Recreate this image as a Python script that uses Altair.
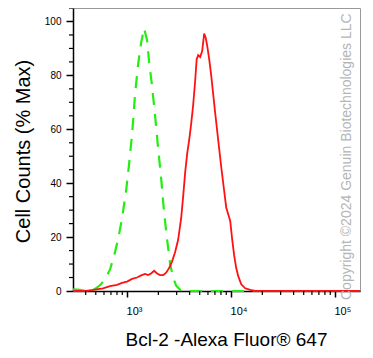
import altair as alt
import pandas as pd

# Fluorescence intensity (Bcl-2 Alexa Fluor 647) and % max cell counts
green_x = [302, 352, 403, 460, 503, 562, 628, 686, 749, 819, 895, 978, 1045, 1117,
           1194, 1276, 1364, 1458, 1559, 1629, 1741, 1861, 1989, 2126, 2273, 2429,
           2597, 2775, 2966, 3240, 3702, 174000]
green_y = [0.6, 0.4, 0, 0.3, 1, 2.5, 5, 8, 13, 19, 27, 37, 47, 58,
           73, 84, 92, 97.5, 93, 85, 76, 65, 53, 42, 29, 19,
           10, 5, 2, 0.5, 0, 0]

red_x = [302, 403, 492, 587, 686, 801, 895, 1000, 1117, 1248, 1364, 1491, 1594, 1703,
         1820, 1945, 2079, 2222, 2375, 2539, 2713, 2900, 3099, 3313, 3463, 3622, 3785,
         3957, 4136, 4323, 4520, 4673, 4831, 5050, 5279, 5518, 5705, 5898, 6166, 6446,
         6738, 7043, 7529, 8049, 8602, 8991, 9398, 9824, 10270, 10736, 11223, 11732,
         12541, 13706, 15311, 17107, 174000]
red_y = [0, 0, 0.5, 1, 1.8, 2.3, 3, 3.5, 4.5, 5, 5.8, 6.3, 5.9, 6.5,
         7.5, 6.5, 5.9, 5.9, 6.8, 8.5, 11, 14.5, 19, 27, 35, 44, 51,
         56, 62, 69, 78, 86, 87.5, 86.8, 89, 95.5, 94, 91, 86, 80,
         73, 66, 56, 46, 37, 31, 28.5, 26, 19, 13, 8.5, 5.5,
         2.5, 1, 0.4, 0, 0]

x_major = [1000, 10000, 100000]
x_major_labels = ["10³", "10⁴", "10⁵"]
x_minor = [m * d for d in (100, 1000, 10000) for m in range(2, 10) if 302 <= m * d <= 174000]
y_major = [0, 20, 40, 60, 80, 100]
y_minor = [v for v in range(5, 106, 5) if v % 20 != 0]

green_df = pd.DataFrame({"x": green_x, "y": green_y})
red_df = pd.DataFrame({"x": red_x, "y": red_y})
xminor_df = pd.DataFrame({"x": x_minor})
yminor_df = pd.DataFrame({"y": y_minor})
wm_df = pd.DataFrame({"t": ["Copyright ©2024 Genuin Biotechnologies LLC"]})

FONT = "Liberation Sans"
W, H = 287, 283
xs = alt.Scale(type="log", domain=[302, 174000], nice=False)
ys = alt.Scale(domain=[0, 105], nice=False)

label_expr = " : ".join(
    f"datum.value == {v} ? '{l}'" for v, l in zip(x_major, x_major_labels)
) + " : ''"

x_axis_major = alt.Axis(
    orient="bottom", values=x_major, labelExpr=label_expr, grid=False,
    tickSize=6, tickWidth=1.5, tickColor="black", domainColor="black", domainWidth=1.5,
    labelFont=FONT, labelFontSize=11, labelColor="black", labelAlign="left",
    labelPadding=8, labelOffset=-1,
    title="Bcl-2 -Alexa Fluor® 647", titleFont=FONT, titleFontSize=19,
    titleFontWeight="normal", titleColor="black", titleX=153, titleY=54,
    titleAlign="center", titleBaseline="alphabetic",
)
y_axis_major = alt.Axis(
    orient="left", values=y_major, grid=False,
    tickSize=7, tickWidth=1.5, tickColor="black", domainColor="black", domainWidth=1.5,
    labelFont=FONT, labelFontSize=10, labelColor="black", labelPadding=5,
    title="Cell Counts (% Max)", titleFont=FONT, titleFontSize=20,
    titleFontWeight="normal", titleColor="black", titleX=-50, titleY=143,
    titleAlign="center", titleBaseline="middle", titleAngle=-90,
)

green = alt.Chart(green_df).mark_line(
    color="#22ee11", strokeWidth=2.2, strokeDash=[12, 9]
).encode(
    x=alt.X("x:Q", scale=xs, axis=x_axis_major),
    y=alt.Y("y:Q", scale=ys, axis=y_axis_major),
)
red = alt.Chart(red_df).mark_line(color="#ff1111", strokeWidth=1.8).encode(
    x=alt.X("x:Q", scale=xs),
    y=alt.Y("y:Q", scale=ys),
)
xminor = alt.Chart(xminor_df).mark_rule(color="black", strokeWidth=1.2).encode(
    x=alt.X("x:Q", scale=xs),
    y=alt.value(H), y2=alt.value(H + 4),
)
yminor = alt.Chart(yminor_df).mark_rule(color="black", strokeWidth=1.2).encode(
    y=alt.Y("y:Q", scale=ys),
    x=alt.value(-4), x2=alt.value(0),
)
wm = alt.Chart(wm_df).mark_text(
    angle=270, align="left", baseline="alphabetic", font=FONT, fontSize=14,
    color="#b5b5b5",
).encode(text="t:N", x=alt.value(278), y=alt.value(292))

chart = alt.layer(green, red, xminor, yminor, wm).properties(
    width=W, height=H,
    padding={"left": 65, "top": 0, "right": 5, "bottom": 64},
    autosize="none",
).configure_view(stroke="#999999", strokeWidth=1)

chart.save("out.html", embed_options={"renderer": "svg", "actions": False})
